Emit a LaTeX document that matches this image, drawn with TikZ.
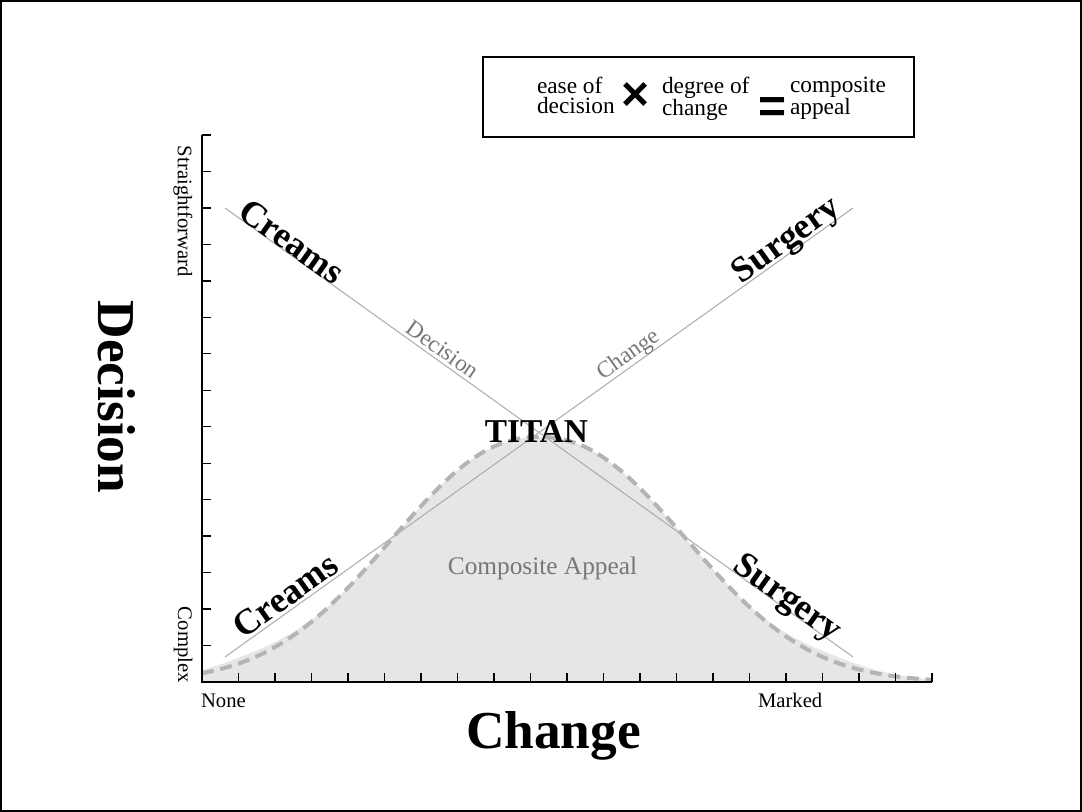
\documentclass[tikz,border=0pt]{standalone}
\usepackage{fontspec}
\setmainfont{Liberation Serif}
\newfontfamily\symfont{Liberation Sans}
\definecolor{fillgray}{HTML}{E6E6E7}
\definecolor{linegray}{HTML}{AAAAAA}
\definecolor{dashgray}{HTML}{B4B4B4}
\definecolor{labelgray}{HTML}{777777}
\begin{document}
\begin{tikzpicture}[x=0.75pt,y=-0.75pt,
  lbl/.style={inner sep=0pt, outer sep=0pt},
  biglabel/.style={lbl, font=\fontsize{40}{40}\selectfont\bfseries},
  itemlabel/.style={lbl, font=\fontsize{27}{27}\selectfont\bfseries},
  guidelabel/.style={lbl, font=\fontsize{17.5}{17.5}\selectfont, text=labelgray},
  axislabel/.style={lbl, font=\fontsize{15.5}{15.5}\selectfont},
  legtext/.style={lbl, anchor=north west, align=left, font=\fontsize{17.5}{15}\selectfont},
  symb/.style={lbl, font=\symfont\bfseries\fontsize{36}{36}\selectfont},
  guideline/.style={draw=linegray, line width=0.75pt},
  axisline/.style={draw=black, line width=1.1pt},
  tickline/.style={draw=black, line width=1pt},
  dashcurve/.style={draw=dashgray, line width=3pt, dash pattern=on 9pt off 5pt},
]
\useasboundingbox (0,0) rectangle (1082,812);
% outer frame
\draw[line width=1.2pt] (0.8,0.8) rectangle (1081.2,811.2);

% legend
\draw[line width=0.9pt] (483,57) rectangle (914,137);
\node[legtext] (l1) at (537,77) {ease of\\decision};
\node[symb] (times) at (635.5,97) {×};
\node[legtext] (l2) at (662,77) {degree of\\change};
\node[symb] (eq) at (773,110) {=};
\node[legtext] (l3) at (790,77) {composite\\appeal};

% composite appeal fill
\fill[fillgray] (202,682) -- plot[domain=202:932, samples=181, smooth]
  (\x, {682-245*exp(-exp(2.2*ln(abs(\x-539)/195+0.0001)))-6*exp(-((abs(\x-539)-290)/60)^2)}) -- (932,682) -- cycle;

% guide lines
\coordinate (dA) at (225,208);
\coordinate (dB) at (853,657);
\coordinate (cA) at (225,657);
\coordinate (cB) at (853,208);
\draw[guideline] (dA) -- (dB);
\draw[guideline] (cA) -- (cB);

% dashed curve
\draw[dashcurve] plot[domain=202:932, samples=181, smooth]
  (\x, {682-245*exp(-exp(2.2*ln(abs(\x-539)/195+0.0001)))});

% axes
\coordinate (ytop) at (202,135);
\coordinate (O) at (202,682);
\coordinate (xend) at (932,682);
\draw[axisline] (ytop) -- (O) -- (xend);
\foreach \i in {1,...,20}
  \draw[tickline] ({202+36.5*\i},682) -- ({202+36.5*\i},673);
\foreach \j in {1,...,15}
  \draw[tickline] (202,{682-36.4667*\j}) -- (211,{682-36.4667*\j});

% axis labels
\node[axislabel, rotate=-90, anchor=west] (sf) at (183,146) {Straightforward};
\node[axislabel, rotate=-90, anchor=west] (cx) at (183,607) {Complex};
\node[axislabel, anchor=base west] (none) at (201,707) {None};
\node[axislabel, anchor=base west] (marked) at (758,707) {Marked};
\node[biglabel, rotate=-90, anchor=base] (decbig) at (98,397) {Decision};
\node[biglabel, anchor=base] (chbig) at (553.5,748) {Change};

% item labels
\node[itemlabel, rotate=-35.56, anchor=base] (creamsT) at (285,251) {Creams};
\node[itemlabel, rotate=35.56, anchor=base] (surgT) at (792,248) {Surgery};
\node[itemlabel, rotate=35.56, anchor=base] (creamsB) at (292,605) {Creams};
\node[itemlabel, rotate=-35.56, anchor=base] (surgB) at (782,606) {Surgery};

% guide labels
\node[guidelabel, rotate=-35.56, anchor=base] (decg) at (438.5,355.5) {Decision};
\node[guidelabel, rotate=35.56, anchor=base] (chg) at (632,360) {Change};

\node[lbl, anchor=base, font=\fontsize{25}{25}\selectfont\bfseries] (titan) at (536.5,443) {TITAN};
\node[lbl, anchor=base, font=\fontsize{19}{19}\selectfont, text=labelgray] (comp) at (542.5,575) {Composite Appeal};
\end{tikzpicture}
\end{document}
